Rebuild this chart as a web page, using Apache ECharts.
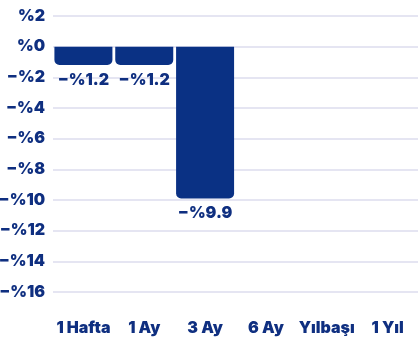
<!DOCTYPE html>
<html>
<head>
<meta charset="utf-8">
<script src="https://cdn.jsdelivr.net/npm/echarts@6/dist/echarts.min.js"></script>
<style>
  html, body { margin: 0; padding: 0; background: #ffffff; }
  #chart { width: 418px; height: 342px; }
</style>
</head>
<body>
<div id="chart"></div>
<script>
// Period returns (percent); periods without data are left empty
const periods = ['1 Hafta', '1 Ay', '3 Ay', '6 Ay', 'Yılbaşı', '1 Yıl'];
const returns = [-1.2, -1.2, -9.9, null, null, null];
const axisMin = -16;
const axisMax = 2;
const axisStep = 2;

const ink = '#0f2f80';
const barColor = '#0a3184';
const fontFamily = 'Inter';
const fontWeight = 900;

function pct(v, digits) {
  const s = Math.abs(v).toFixed(digits);
  return (v < 0 ? '\u2212%' : '%') + s;
}

const chart = echarts.init(document.getElementById('chart'), null, { renderer: 'canvas' });
chart.setOption({
  animation: false,
  textStyle: { fontFamily },
  grid: {
    left: 53, right: 0, top: 16, bottom: 50,
    containLabel: false, outerBoundsMode: 'none'
  },
  xAxis: {
    type: 'category',
    data: periods,
    axisLine: { show: false },
    axisTick: { show: false },
    axisLabel: {
      color: ink, fontSize: 16, fontWeight, fontFamily,
      margin: 28, interval: 0
    }
  },
  yAxis: {
    type: 'value',
    min: axisMin,
    max: axisMax,
    interval: axisStep,
    axisLine: { show: false },
    axisTick: { show: false },
    splitLine: { lineStyle: { color: '#dcdcee', width: 1.5 } },
    axisLabel: {
      color: ink, fontSize: 16, fontWeight, fontFamily,
      margin: 8,
      formatter: v => pct(v, 0)
    }
  },
  series: [{
    type: 'bar',
    data: returns,
    barWidth: 58,
    itemStyle: { color: barColor, borderRadius: [0, 0, 5, 5] },
    label: {
      show: true,
      position: 'bottom',
      distance: 7,
      color: ink,
      fontSize: 16,
      fontWeight,
      fontFamily,
      formatter: p => (p.value == null ? '' : pct(p.value, 1))
    }
  }]
});
</script>
</body>
</html>
